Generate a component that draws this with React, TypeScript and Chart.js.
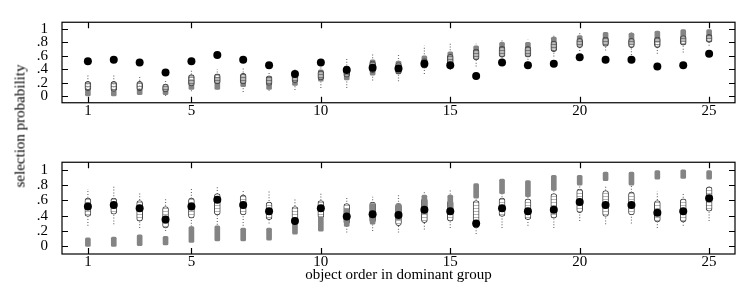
import React, { useEffect, useRef } from "react";
import { Chart, registerables } from "chart.js";

Chart.register(...registerables);

// ---------- data ----------
const objects = [1, 2, 3, 4, 5, 6, 7, 8, 9, 10, 11, 12, 13, 14, 15, 16, 17, 18, 19, 20, 21, 22, 23, 24, 25];
const observed = [0.52, 0.54, 0.5, 0.35, 0.52, 0.61, 0.54, 0.46, 0.33, 0.5, 0.39, 0.42, 0.41, 0.48, 0.46, 0.3, 0.5, 0.46, 0.48, 0.58, 0.54, 0.54, 0.44, 0.46, 0.63];

// top panel: predictive distributions
const topTailLow = [0.0, 0.0, 0.02, 0.0, 0.07, 0.1, 0.06, 0.08, 0.09, 0.12, 0.12, 0.23, 0.22, 0.33, 0.39, 0.44, 0.52, 0.5, 0.59, 0.67, 0.68, 0.61, 0.63, 0.65, 0.75];
const topTailHigh = [0.31, 0.31, 0.3, 0.25, 0.4, 0.4, 0.42, 0.37, 0.42, 0.44, 0.56, 0.63, 0.62, 0.75, 0.8, 0.78, 0.84, 0.84, 0.92, 0.94, 0.95, 0.95, 0.97, 0.99, 0.99];
const topSquareLow = [0.0, 0.0, 0.02, 0.02, 0.1, 0.1, 0.14, 0.1, 0.16, 0.22, 0.24, 0.31, 0.33, 0.42, 0.5, 0.58, 0.62, 0.6, 0.7, 0.75, 0.78, 0.77, 0.8, 0.82, 0.86];
const topSquareHigh = [0.1, 0.08, 0.1, 0.14, 0.25, 0.28, 0.3, 0.28, 0.33, 0.39, 0.42, 0.54, 0.52, 0.6, 0.66, 0.75, 0.8, 0.8, 0.88, 0.9, 0.95, 0.94, 0.97, 0.99, 0.99];
const topCircleLow = [0.08, 0.07, 0.08, 0.06, 0.15, 0.18, 0.18, 0.16, 0.2, 0.24, 0.28, 0.35, 0.33, 0.42, 0.47, 0.54, 0.58, 0.58, 0.66, 0.72, 0.74, 0.72, 0.72, 0.76, 0.8];
const topCircleHigh = [0.22, 0.22, 0.22, 0.18, 0.32, 0.33, 0.34, 0.3, 0.36, 0.38, 0.45, 0.52, 0.5, 0.56, 0.62, 0.7, 0.74, 0.74, 0.82, 0.86, 0.88, 0.86, 0.88, 0.9, 0.92];

// bottom panel: predictive distributions
const botTailLow = [0.27, 0.29, 0.24, 0.2, 0.15, 0.21, 0.27, 0.3, 0.16, 0.2, 0.18, 0.2, 0.18, 0.22, 0.24, 0.16, 0.24, 0.27, 0.24, 0.33, 0.29, 0.3, 0.24, 0.27, 0.33];
const botTailHigh = [0.75, 0.78, 0.71, 0.63, 0.75, 0.78, 0.73, 0.74, 0.63, 0.69, 0.65, 0.65, 0.68, 0.71, 0.75, 0.82, 0.75, 0.72, 0.78, 0.82, 0.78, 0.79, 0.72, 0.71, 0.8];
const botCircleLow = [0.39, 0.42, 0.33, 0.24, 0.37, 0.41, 0.41, 0.35, 0.32, 0.37, 0.29, 0.31, 0.27, 0.31, 0.33, 0.24, 0.39, 0.35, 0.37, 0.44, 0.39, 0.41, 0.32, 0.32, 0.46];
const botCircleHigh = [0.63, 0.63, 0.6, 0.52, 0.63, 0.69, 0.67, 0.58, 0.52, 0.6, 0.56, 0.58, 0.56, 0.63, 0.6, 0.6, 0.63, 0.62, 0.69, 0.75, 0.73, 0.71, 0.6, 0.62, 0.78];
const botSquareLow = [0.0, 0.0, 0.01, 0.02, 0.05, 0.07, 0.07, 0.08, 0.16, 0.2, 0.26, 0.29, 0.35, 0.43, 0.46, 0.63, 0.69, 0.65, 0.73, 0.8, 0.86, 0.8, 0.88, 0.89, 0.88];
const botSquareHigh = [0.11, 0.12, 0.15, 0.13, 0.26, 0.27, 0.24, 0.24, 0.37, 0.39, 0.49, 0.56, 0.56, 0.67, 0.67, 0.82, 0.88, 0.86, 0.93, 0.93, 0.97, 0.97, 0.99, 1.0, 0.99];

const xTicks = [1, 5, 10, 15, 20, 25];
const yTicks = [0, 0.2, 0.4, 0.6, 0.8, 1];
const yTickLabels = ["0", ".2", ".4", ".6", ".8", "1"];

const FONT = "'Liberation Serif', 'Times New Roman', serif";

const framePlugin = {
  id: "frameTicks",
  afterDraw(chart: any) {
    const { ctx, chartArea } = chart;
    const { left, right, top, bottom } = chartArea;
    const xs = chart.scales.x;
    const ys = chart.scales.y;
    const len = 6;
    ctx.save();
    ctx.strokeStyle = "#000";
    ctx.lineWidth = 1.2;
    ctx.strokeRect(left, top, right - left, bottom - top);
    ctx.beginPath();
    xTicks.forEach((v) => {
      const p = Math.round(xs.getPixelForValue(v)) + 0.5;
      ctx.moveTo(p, top);
      ctx.lineTo(p, top + len);
      ctx.moveTo(p, bottom);
      ctx.lineTo(p, bottom - len);
    });
    yTicks.forEach((v) => {
      const p = Math.round(ys.getPixelForValue(v)) + 0.5;
      ctx.moveTo(left, p);
      ctx.lineTo(left + len, p);
      ctx.moveTo(right, p);
      ctx.lineTo(right - len, p);
    });
    ctx.stroke();
    ctx.restore();
  },
};

function ringPattern(fill: string, line: string): any {
  const c = document.createElement("canvas");
  c.width = 6;
  c.height = 3;
  const g = c.getContext("2d") as CanvasRenderingContext2D;
  g.fillStyle = fill;
  g.fillRect(0, 0, 6, 3);
  g.fillStyle = line;
  g.fillRect(0, 2, 6, 1);
  return g.createPattern(c, "repeat");
}

function buildDatasets(
  tailLow: number[],
  tailHigh: number[],
  squareLow: number[],
  squareHigh: number[],
  circleLow: number[],
  circleHigh: number[],
  bottomPanel: boolean
) {
  const tails = objects.map((x, i) => ({
    type: "line",
    data: [
      { x, y: tailLow[i] },
      { x, y: tailHigh[i] },
    ],
    borderColor: "#707070",
    borderWidth: 1.2,
    borderDash: [1, 1.8],
    pointRadius: 0,
    order: 6,
  }));
  const squares = {
    type: "bar",
    data: objects.map((x, i) => ({ x, y: [squareLow[i], squareHigh[i]] })),
    backgroundColor: "#848484",
    borderWidth: 0,
    barThickness: 5,
    maxBarThickness: 5,
    borderRadius: 1.5,
    borderSkipped: false,
    grouped: false,
    order: bottomPanel ? 3 : 5,
  };
  const circles = {
    type: "bar",
    data: objects.map((x, i) => ({ x, y: [circleLow[i], circleHigh[i]] })),
    backgroundColor: bottomPanel
      ? ringPattern("#ffffff", "rgba(120,120,120,0.55)")
      : ringPattern("rgba(255,255,255,0.45)", "rgba(60,60,60,0.5)"),
    borderColor: "#4a4a4a",
    borderWidth: 1,
    barThickness: 6,
    maxBarThickness: 6,
    borderRadius: 3,
    borderSkipped: false,
    grouped: false,
    order: 4,
  };
  const obs = {
    type: "scatter",
    data: objects.map((x, i) => ({ x, y: observed[i] })),
    pointRadius: 4,
    backgroundColor: "#000",
    borderWidth: 0,
    order: 1,
  };
  return [...tails, squares, circles, obs];
}

function makeConfig(datasets: any[], xHeight: number, padTop: number, showTitle: boolean) {
  return {
    type: "bar",
    data: { datasets },
    plugins: [framePlugin],
    options: {
      responsive: false,
      animation: false,
      events: [],
      layout: { padding: { top: padTop, right: 1, left: 0, bottom: 0 } },
      plugins: { legend: { display: false }, tooltip: { enabled: false } },
      scales: {
        x: {
          type: "linear",
          min: 0,
          max: 26,
          offset: false,
          grid: { display: false, drawTicks: false },
          border: { display: false },
          afterBuildTicks: (s: any) => {
            s.ticks = xTicks.map((v) => ({ value: v }));
          },
          afterFit: (s: any) => {
            s.height = xHeight;
          },
          ticks: {
            padding: 0,
            maxRotation: 0,
            autoSkip: false,
            color: "#000",
            font: { family: FONT, size: 15, lineHeight: 1.1 },
            callback: (v: any) => String(v),
          },
          title: {
            display: showTitle,
            text: "object order in dominant group",
            color: "#000",
            font: { family: FONT, size: 15, lineHeight: 1.1 },
            padding: { top: 0, bottom: 1 },
          },
        },
        y: {
          type: "linear",
          min: -0.1,
          max: 1.1,
          grid: { display: false, drawTicks: false },
          border: { display: false },
          afterBuildTicks: (s: any) => {
            s.ticks = yTicks.map((v) => ({ value: v }));
          },
          afterFit: (s: any) => {
            s.width = 62;
          },
          ticks: {
            padding: 14,
            autoSkip: false,
            color: "#000",
            font: { family: FONT, size: 15, lineHeight: 1.1 },
            callback: (v: any) => {
              const idx = yTicks.findIndex((t) => Math.abs(t - v) < 1e-6);
              return idx >= 0 ? yTickLabels[idx] : "";
            },
          },
        },
      },
    },
  };
}

export default function App() {
  const topRef = useRef<HTMLCanvasElement>(null);
  const botRef = useRef<HTMLCanvasElement>(null);

  useEffect(() => {
    const topChart = new Chart(
      topRef.current as HTMLCanvasElement,
      makeConfig(
        buildDatasets(topTailLow, topTailHigh, topSquareLow, topSquareHigh, topCircleLow, topCircleHigh, false),
        19,
        1,
        false
      ) as any
    );
    const botChart = new Chart(
      botRef.current as HTMLCanvasElement,
      makeConfig(
        buildDatasets(botTailLow, botTailHigh, botSquareLow, botSquareHigh, botCircleLow, botCircleHigh, true),
        30,
        8,
        true
      ) as any
    );
    return () => {
      topChart.destroy();
      botChart.destroy();
    };
  }, []);

  return (
    <div style={{ position: "fixed", left: 0, top: 0, width: 739, height: 284, background: "#fff" }}>
      <canvas ref={topRef} width={739} height={125} style={{ position: "absolute", left: 0, top: 0 }} />
      <canvas ref={botRef} width={739} height={144} style={{ position: "absolute", left: 0, top: 140 }} />
      <div
        style={{
          position: "absolute",
          left: 20,
          top: 126,
          transform: "translate(-50%, -50%) rotate(-90deg)",
          whiteSpace: "nowrap",
          fontFamily: FONT,
          fontSize: 15,
          lineHeight: 1,
          color: "#000",
        }}
      >
        selection probability
      </div>
    </div>
  );
}
